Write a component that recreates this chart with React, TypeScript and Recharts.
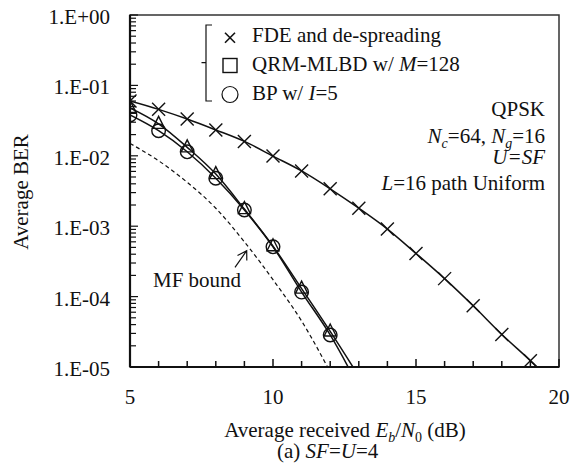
import React from 'react';
import { LineChart, Line, XAxis, YAxis, ReferenceArea } from 'recharts';

// Average received Eb/N0 (dB)
const ebn0 = [5, 6, 7, 8, 9, 10, 11, 12, 13, 14, 15, 16, 17, 18, 19, 20];
// FDE and de-spreading (x markers)
const fdeBer = [6.0e-2, 4.57e-2, 3.33e-2, 2.33e-2, 1.6e-2, 9.9e-3, 6.1e-3, 3.4e-3, 1.8e-3, 9.1e-4, 4.1e-4, 1.8e-4, 7.4e-5, 2.9e-5, 1.23e-5, 5.0e-6];
// QRM-MLBD w/ M=128 (triangle markers in plot)
const qrmBer = [4.8e-2, 2.85e-2, 1.32e-2, 5.5e-3, 1.75e-3, 5.2e-4, 1.3e-4, 3.2e-5, 7.4e-6];
// BP w/ I=5 (circle markers)
const bpBer = [3.8e-2, 2.27e-2, 1.14e-2, 4.8e-3, 1.7e-3, 5.1e-4, 1.16e-4, 2.85e-5, 5.2e-6];
// MF bound (dashed)
const mfBound = [1.5e-2, 8.5e-3, 4.2e-3, 1.8e-3, 6.0e-4, 1.74e-4, 4.5e-5, 8.5e-6];

const xTicks = [5, 6, 7, 8, 9, 10, 11, 12, 13, 14, 15, 16, 17, 18, 19, 20];
const xMajorTicks = [5, 10, 15, 20];
const xTickLabels = ['5', '10', '15', '20'];
const yMajorTicks = [1e-5, 1e-4, 1e-3, 1e-2, 1e-1, 1];
const yTickLabels = ['1.E-05', '1.E-04', '1.E-03', '1.E-02', '1.E-01', '1.E+00'];
const yMinorMultipliers = [2, 3, 4, 5, 6, 7, 8, 9];

const yTicks: number[] = [];
yMajorTicks.forEach((d, i) => {
  yTicks.push(d);
  if (i < yMajorTicks.length - 1) yMinorMultipliers.forEach((m) => yTicks.push(d * m));
});

const data = ebn0.map((x, i) => ({
  x,
  fde: fdeBer[i] ?? null,
  qrm: qrmBer[i] ?? null,
  bp: bpBer[i] ?? null,
  mf: mfBound[i] ?? null,
}));

const FONT = '"Liberation Serif", "Times New Roman", serif';
const INK = '#111';
const YMIN = 1e-5;

const XTick = (props: any) => {
  const { x, y, payload } = props;
  const idx = xMajorTicks.indexOf(payload.value);
  const major = idx >= 0;
  return (
    <g>
      <line x1={x} x2={x} y1={y} y2={y - (major ? 8 : 6)} stroke={INK} strokeWidth={1.5} />
      {major && (
        <text x={x} y={y + 37} textAnchor="middle" fontFamily={FONT} fontSize={21} fill={INK}>
          {xTickLabels[idx]}
        </text>
      )}
    </g>
  );
};

const YTick = (props: any) => {
  const { x, y, payload } = props;
  const idx = yMajorTicks.findIndex((t) => Math.abs(Math.log10(t) - Math.log10(payload.value)) < 1e-6);
  const major = idx >= 0;
  return (
    <g>
      <line x1={x} x2={x + (major ? 8 : 6)} y1={y} y2={y} stroke={INK} strokeWidth={1.2} />
      {major && (
        <text x={x - 20} y={y + 9} textAnchor="end" fontFamily={FONT} fontSize={21} fill={INK}>
          {yTickLabels[idx]}
        </text>
      )}
    </g>
  );
};

const inRange = (p: any) => p && p.value != null && p.value >= YMIN && p.cx != null && p.cy != null;

const CrossDot = (p: any) => {
  if (!inRange(p)) return <g key={p.key} />;
  const s = 6.5;
  return (
    <g key={p.key}>
      <line x1={p.cx - s} y1={p.cy - s} x2={p.cx + s} y2={p.cy + s} stroke={INK} strokeWidth={1.4} />
      <line x1={p.cx - s} y1={p.cy + s} x2={p.cx + s} y2={p.cy - s} stroke={INK} strokeWidth={1.4} />
    </g>
  );
};

const TriDot = (p: any) => {
  if (!inRange(p)) return <g key={p.key} />;
  const h = 12;
  const w = 12;
  const pts = `${p.cx},${p.cy - h * 0.62} ${p.cx - w / 2},${p.cy + h * 0.38} ${p.cx + w / 2},${p.cy + h * 0.38}`;
  return <polygon key={p.key} points={pts} fill="none" stroke={INK} strokeWidth={1.4} />;
};

const CircleDot = (p: any) => {
  if (!inRange(p)) return <g key={p.key} />;
  return <circle key={p.key} cx={p.cx} cy={p.cy} r={6.8} fill="none" stroke={INK} strokeWidth={1.4} />;
};

export default function App() {
  return (
    <div style={{ position: 'absolute', left: 0, top: 0, width: 574, height: 472, background: '#fff' }}>
      <LineChart width={574} height={472} data={data} margin={{ top: 15, right: 15, left: 0, bottom: 65 }}>
        <XAxis
          dataKey="x"
          type="number"
          domain={[5, 20]}
          ticks={xTicks}
          interval={0}
          tick={<XTick />}
          tickLine={false}
          tickSize={0}
          tickMargin={0}
          axisLine={{ stroke: INK, strokeWidth: 2.2 }}
          height={40}
          allowDataOverflow
        />
        <YAxis
          type="number"
          scale="log"
          domain={[YMIN, 1]}
          ticks={yTicks}
          interval={0}
          tick={<YTick />}
          tickLine={false}
          tickSize={0}
          tickMargin={0}
          axisLine={{ stroke: INK, strokeWidth: 2.2 }}
          width={130}
          allowDataOverflow
        />
        <ReferenceArea x1={5} x2={20} y1={YMIN} y2={1} fill="none" stroke="#333" strokeWidth={1.5} ifOverflow="visible" />
        <Line dataKey="mf" type="monotone" stroke={INK} strokeWidth={1.2} strokeDasharray="4 3" dot={false} isAnimationActive={false} />
        <Line dataKey="fde" type="monotone" stroke={INK} strokeWidth={1.5} dot={CrossDot} isAnimationActive={false} />
        <Line dataKey="qrm" type="monotone" stroke={INK} strokeWidth={1.5} dot={TriDot} isAnimationActive={false} />
        <Line dataKey="bp" type="monotone" stroke={INK} strokeWidth={1.5} dot={CircleDot} isAnimationActive={false} />
      </LineChart>
      <svg
        width={574}
        height={472}
        style={{ position: 'absolute', left: 0, top: 0, pointerEvents: 'none' }}
        fontFamily={FONT}
        fontSize={21}
        fill={INK}
      >
        {/* Legend */}
        <path d="M212,25 H206 V101 H212 M201.5,62.7 H206" fill="none" stroke={INK} strokeWidth={1.2} />
        <line x1={225} y1={32.7} x2={235} y2={42.7} stroke={INK} strokeWidth={1.6} />
        <line x1={225} y1={42.7} x2={235} y2={32.7} stroke={INK} strokeWidth={1.6} />
        <rect x={223} y={58.5} width={14} height={14} fill="none" stroke={INK} strokeWidth={1.4} />
        <circle cx={230} cy={94.5} r={8} fill="none" stroke={INK} strokeWidth={1.2} />
        <text x={252} y={42}>FDE and de-spreading</text>
        <text x={252} y={71}>
          QRM-MLBD w/ <tspan fontStyle="italic">M</tspan>=128
        </text>
        <text x={252} y={100}>
          BP w/ <tspan fontStyle="italic">I</tspan>=5
        </text>

        {/* Parameters */}
        <text x={545} y={116} textAnchor="end">QPSK</text>
        <text x={545} y={143} textAnchor="end">
          <tspan fontStyle="italic">N</tspan>
          <tspan fontStyle="italic" fontSize={14} dy={5}>c</tspan>
          <tspan dy={-5}>=64, </tspan>
          <tspan fontStyle="italic">N</tspan>
          <tspan fontStyle="italic" fontSize={14} dy={5}>g</tspan>
          <tspan dy={-5}>=16</tspan>
        </text>
        <text x={545} y={164} textAnchor="end" fontStyle="italic">U=SF</text>
        <text x={545} y={190} textAnchor="end">
          <tspan fontStyle="italic">L</tspan>=16 path Uniform
        </text>

        {/* MF bound annotation */}
        <text x={153} y={287}>MF bound</text>
        <path d="M235,267.3 L246.7,250.7 M237.5,255.5 L246.7,250.7 L246.8,260.5" fill="none" stroke={INK} strokeWidth={1.2} />

        {/* Axis titles */}
        <text x={28} y={192} textAnchor="middle" transform="rotate(-90 28 192)">Average BER</text>
        <text x={345} y={437} textAnchor="middle">
          Average received <tspan fontStyle="italic">E</tspan>
          <tspan fontStyle="italic" fontSize={14} dy={5}>b</tspan>
          <tspan dy={-5}>/</tspan>
          <tspan fontStyle="italic">N</tspan>
          <tspan fontSize={14} dy={5}>0</tspan>
          <tspan dy={-5}> (dB)</tspan>
        </text>
        <text x={277} y={458}>
          (a) <tspan fontStyle="italic">SF</tspan>=<tspan fontStyle="italic">U</tspan>=4
        </text>
      </svg>
    </div>
  );
}
